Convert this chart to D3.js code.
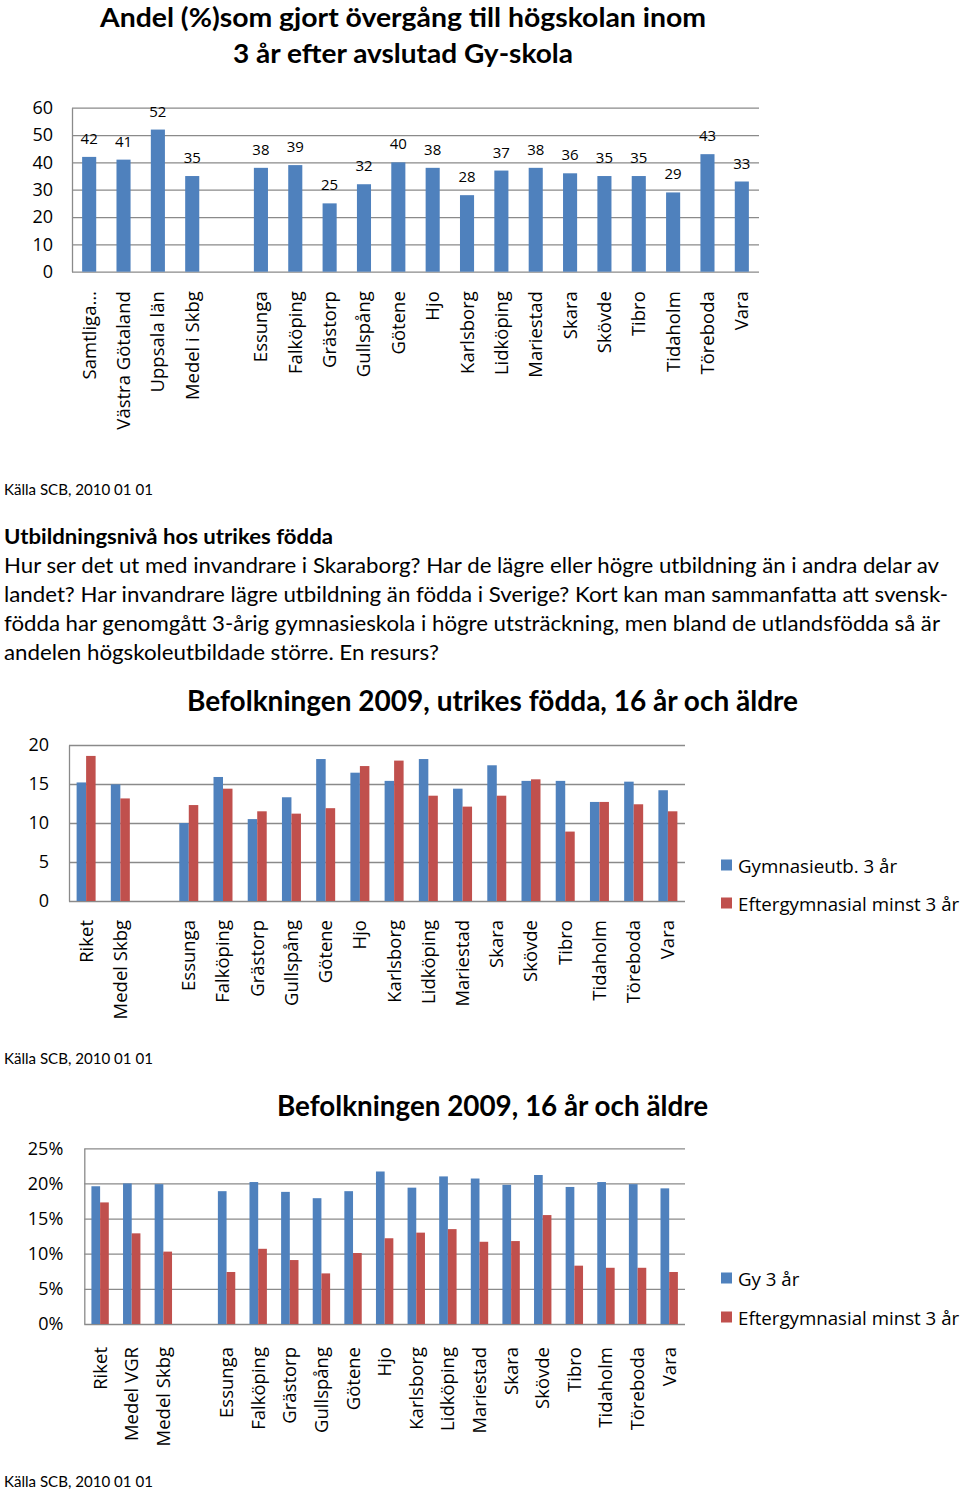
<!DOCTYPE html>
<html><head><meta charset="utf-8">
<script src="https://cdn.jsdelivr.net/npm/d3@7"></script>
<style>
body{margin:0;background:#fff;}
svg{display:block;}
.ax text{font-family:"Open Sans",sans-serif;fill:#000;}
</style></head>
<body>
<svg id="root" width="960" height="1490"></svg>
<script>
// ---------- DATA ----------
const c1Title = ["Andel (%)som gjort övergång till högskolan inom", "3 år efter avslutad Gy-skola"];
const c1Categories = ["Samtliga…","Västra Götaland","Uppsala län","Medel i Skbg","","Essunga","Falköping","Grästorp","Gullspång","Götene","Hjo","Karlsborg","Lidköping","Mariestad","Skara","Skövde","Tibro","Tidaholm","Töreboda","Vara"];
const c1Values = [42,41,52,35,null,38,39,25,32,40,38,28,37,38,36,35,35,29,43,33];
const c1Ticks = [0,10,20,30,40,50,60];

const sourceText = "Källa SCB, 2010 01 01";
const heading = "Utbildningsnivå hos utrikes födda";
const paragraph = [
 "Hur ser det ut med invandrare i Skaraborg? Har de lägre eller högre utbildning än i andra delar av",
 "landet? Har invandrare lägre utbildning än födda i Sverige? Kort kan man sammanfatta att svensk-",
 "födda har genomgått 3-årig gymnasieskola i högre utsträckning, men bland de utlandsfödda så är",
 "andelen högskoleutbildade större. En resurs?"
];

const c2Title = "Befolkningen 2009, utrikes födda, 16 år och äldre";
const c2Categories = ["Riket","Medel Skbg","","Essunga","Falköping","Grästorp","Gullspång","Götene","Hjo","Karlsborg","Lidköping","Mariestad","Skara","Skövde","Tibro","Tidaholm","Töreboda","Vara"];
const c2Series = ["Gymnasieutb. 3 år","Eftergymnasial minst 3 år"];
const c2Gymn  = [15.2,14.95,null,10.0,15.9,10.5,13.3,18.2,16.45,15.4,18.2,14.4,17.4,15.4,15.4,12.7,15.3,14.2];
const c2Efter = [18.6,13.15,null,12.3,14.4,11.5,11.2,11.9,17.3,18.0,13.5,12.1,13.5,15.6,8.9,12.7,12.4,11.5];
const c2Ticks = [0,5,10,15,20];

const c3Title = "Befolkningen 2009, 16 år och äldre";
const c3Categories = ["Riket","Medel VGR","Medel Skbg","","Essunga","Falköping","Grästorp","Gullspång","Götene","Hjo","Karlsborg","Lidköping","Mariestad","Skara","Skövde","Tibro","Tidaholm","Töreboda","Vara"];
const c3Series = ["Gy 3 år","Eftergymnasial minst 3 år"];
const c3Gy    = [19.6,20.0,19.9,null,18.9,20.2,18.8,17.9,18.9,21.7,19.4,21.0,20.7,19.8,21.2,19.5,20.2,19.9,19.3];
const c3Efter = [17.3,12.9,10.3,null,7.4,10.7,9.1,7.2,10.1,12.2,13.0,13.5,11.7,11.8,15.5,8.3,8.0,8.0,7.4];
const c3Ticks = [0,5,10,15,20,25];

// ---------- STYLE ----------
const BLUE = "#4F81BD", RED = "#C0504D", GRID = "#8a8a8a";
const CAL = "Lato, 'Open Sans', sans-serif";
const OS = "'Open Sans', sans-serif";

const svg = d3.select("#root");

function fitText(g, str, x, y, size, weight, len, anchor){
  const t = g.append("text").attr("x",x).attr("y",y)
    .attr("font-family",CAL).attr("font-size",size).attr("font-weight",weight)
    .attr("dominant-baseline","central").attr("text-anchor",anchor||"start").attr("fill","#000").text(str);
  if(len) t.attr("textLength",len).attr("lengthAdjust","spacingAndGlyphs");
  return t;
}

function yAxis(g, y, ticks, x0, x1, pad, fmt){
  const ax = g.append("g").attr("class","ax").attr("transform",`translate(${x0},0)`)
    .call(d3.axisLeft(y).tickValues(ticks).tickSize(-(x1-x0)).tickSizeOuter(0).tickPadding(pad).tickFormat(fmt));
  ax.selectAll("line").attr("stroke",GRID).attr("stroke-width",1.3);
  ax.select(".domain").attr("stroke",GRID).attr("stroke-width",1.3);
  ax.selectAll("text").attr("font-size",18);
  return ax;
}
function xLabels(g, x, base, off){
  const ax = g.append("g").attr("class","ax").attr("transform",`translate(0,${base})`)
    .call(d3.axisBottom(x).tickSize(0));
  ax.select(".domain").remove();
  ax.selectAll("text").attr("font-size",18.5)
    .attr("transform","rotate(-90)").attr("text-anchor","end")
    .attr("x",-off).attr("y",0).attr("dy","0.35em");
}
function legend(g, items, x, ys){
  items.forEach((it,i)=>{
    g.append("rect").attr("x",x).attr("y",ys[i]-5.5).attr("width",11).attr("height",11).attr("fill",it.c);
    g.append("text").attr("x",x+17).attr("y",ys[i]).attr("dominant-baseline","central")
      .attr("font-family",OS).attr("font-size",18.7).text(it.n);
  });
}

// ---------- CHART 1 ----------
{
  const g = svg.append("g");
  fitText(g, c1Title[0], 403, 16, 27, "bold", 606, "middle");
  fitText(g, c1Title[1], 403, 52, 27, "bold", 340, "middle");
  const x = d3.scaleBand().domain(c1Categories).range([72,759]).paddingInner(0.59).paddingOuter(0.295);
  const y = d3.scaleLinear().domain([0,60]).range([271.7,107.7]);
  yAxis(g, y, c1Ticks, 72, 759, 19, d3.format("d"));
  const data = c1Categories.map((c,i)=>({c, v:c1Values[i]})).filter(d=>d.v!=null);
  g.selectAll("rect.b").data(data).join("rect").attr("class","b")
    .attr("x",d=>x(d.c)).attr("width",x.bandwidth())
    .attr("y",d=>y(d.v)).attr("height",d=>y(0)-y(d.v)).attr("fill",BLUE);
  g.selectAll("text.lbl").data(data).join("text").attr("class","lbl")
    .attr("x",d=>x(d.c)+x.bandwidth()/2).attr("y",d=>y(d.v)-19)
    .attr("dominant-baseline","central").attr("text-anchor","middle")
    .attr("font-family",OS).attr("font-size",15).text(d=>d.v);
  xLabels(g, x, 271.7, 19.5);
}

// ---------- TEXT ----------
{
  const g = svg.append("g");
  fitText(g, sourceText, 4, 489, 15, "normal", 149);
  fitText(g, heading, 4, 535, 21, "bold", 329);
  const lens = [935, 944, 936, 435];
  paragraph.forEach((p,i)=> fitText(g, p, 4, 564 + i*29, 21, "normal", lens[i]));
  fitText(g, sourceText, 4, 1058, 15, "normal", 149);
  fitText(g, sourceText, 4, 1481, 15, "normal", 149);
}

// ---------- CHART 2 ----------
{
  const g = svg.append("g");
  fitText(g, c2Title, 492.5, 700, 28, "bold", 611, "middle");
  const x = d3.scaleBand().domain(c2Categories).range([69,685]).paddingInner(0.445).paddingOuter(0.2225);
  const xs = d3.scaleBand().domain(c2Series).range([0,x.bandwidth()]);
  const y = d3.scaleLinear().domain([0,20]).range([901,745]);
  yAxis(g, y, c2Ticks, 69, 685, 20, d3.format("d"));
  const cols = [BLUE, RED];
  const vals = [c2Gymn, c2Efter];
  c2Series.forEach((s,si)=>{
    const data = c2Categories.map((c,i)=>({c, v:vals[si][i]})).filter(d=>d.v!=null);
    g.append("g").selectAll("rect").data(data).join("rect")
      .attr("x",d=>x(d.c)+xs(s)).attr("width",xs.bandwidth())
      .attr("y",d=>y(d.v)).attr("height",d=>y(0)-y(d.v)).attr("fill",cols[si]);
  });
  xLabels(g, x, 901, 19);
  legend(g, c2Series.map((n,i)=>({n, c:cols[i]})), 721, [865, 903]);
}

// ---------- CHART 3 ----------
{
  const g = svg.append("g");
  fitText(g, c3Title, 492.5, 1105, 28, "bold", 431, "middle");
  const x = d3.scaleBand().domain(c3Categories).range([84.3,685]).paddingInner(0.45).paddingOuter(0.225);
  const xs = d3.scaleBand().domain(c3Series).range([0,x.bandwidth()]);
  const y = d3.scaleLinear().domain([0,25]).range([1324,1148.3]);
  yAxis(g, y, c3Ticks, 84.3, 685, 21, d=>d+"%");
  const cols = [BLUE, RED];
  const vals = [c3Gy, c3Efter];
  c3Series.forEach((s,si)=>{
    const data = c3Categories.map((c,i)=>({c, v:vals[si][i]})).filter(d=>d.v!=null);
    g.append("g").selectAll("rect").data(data).join("rect")
      .attr("x",d=>x(d.c)+xs(s)).attr("width",xs.bandwidth())
      .attr("y",d=>y(d.v)).attr("height",d=>y(0)-y(d.v)).attr("fill",cols[si]);
  });
  xLabels(g, x, 1324, 23);
  legend(g, c3Series.map((n,i)=>({n, c:cols[i]})), 721, [1278, 1317]);
}
</script>
</body></html>
